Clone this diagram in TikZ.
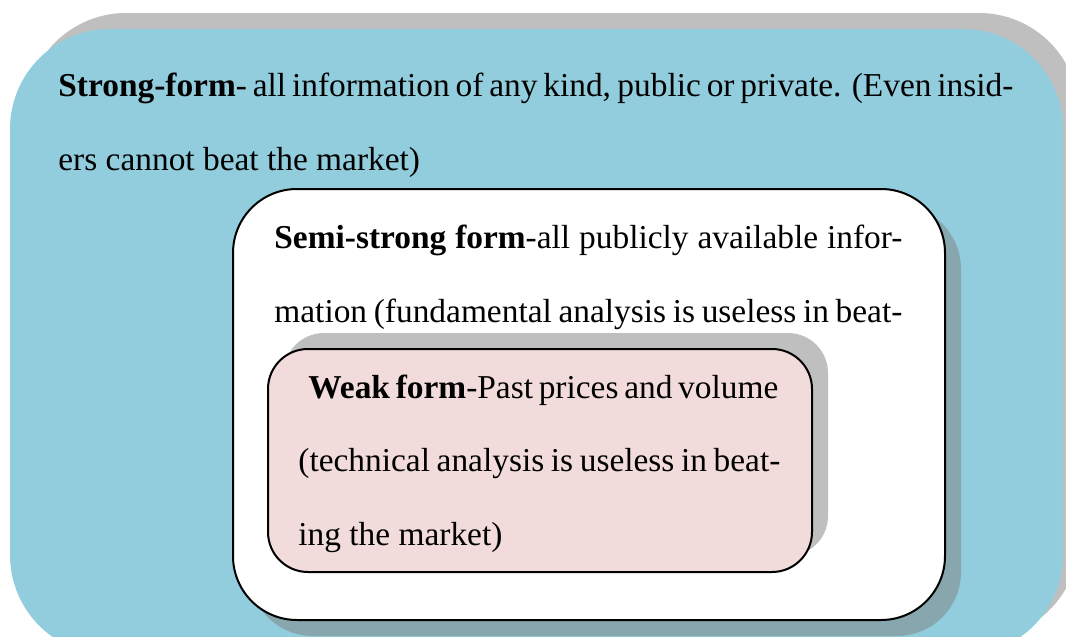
\documentclass[tikz,border=0pt]{standalone}
\usepackage{fontspec}
\setmainfont{Liberation Serif}
\definecolor{aqua}{RGB}{146,205,221}
\definecolor{pinkfill}{RGB}{242,220,219}
\begin{document}
\begin{tikzpicture}[x=0.5pt,y=-0.5pt,
  shadowbox/.style={fill=black!50, fill opacity=0.5, draw=none},
  framebox/.style={draw=black, line width=1pt},
  txt/.style={anchor=base west, inner sep=0pt, font=\fontsize{16.7}{20}\selectfont}]
\useasboundingbox (0,0) rectangle (1066,637);
\clip (0,0) rectangle (1066,637);
% outer (strong form)
\fill[shadowbox, rounded corners=50pt] (26,13) rectangle (1079,639);
\fill[aqua, rounded corners=50pt] (10,29) rectangle (1063,655);
% semi-strong box
\fill[shadowbox, rounded corners=32pt] (249,205) rectangle (961,636);
\draw[framebox, fill=white, rounded corners=32pt] (233,189) rectangle (945,620);
% weak box
\fill[shadowbox, rounded corners=20pt] (284,333) rectangle (828,556);
\draw[framebox, fill=pinkfill, rounded corners=20pt] (268,349) rectangle (812,572);
% texts
\node[txt] (s1) at (58,96) {\makebox[477.5pt][s]{\textbf{Strong-form}- all information of any kind, public or private. (Even insid-}};
\node[txt] (s2) at (58,170) {ers cannot beat the market)};
\node[txt] (m1) at (274,248) {\makebox[314pt][s]{\textbf{Semi-strong form}-all publicly available infor-}};
\node[txt] (m2) at (274,322) {\makebox[314pt][s]{mation (fundamental analysis is useless in beat-}};
\node[txt] (w1) at (308,398) {\makebox[235pt][s]{\textbf{Weak form}-Past prices and volume}};
\node[txt] (w2) at (298,471) {\makebox[241pt][s]{(technical analysis is useless in beat-}};
\node[txt] (w3) at (298,545) {ing the market)};
\end{tikzpicture}
\end{document}
